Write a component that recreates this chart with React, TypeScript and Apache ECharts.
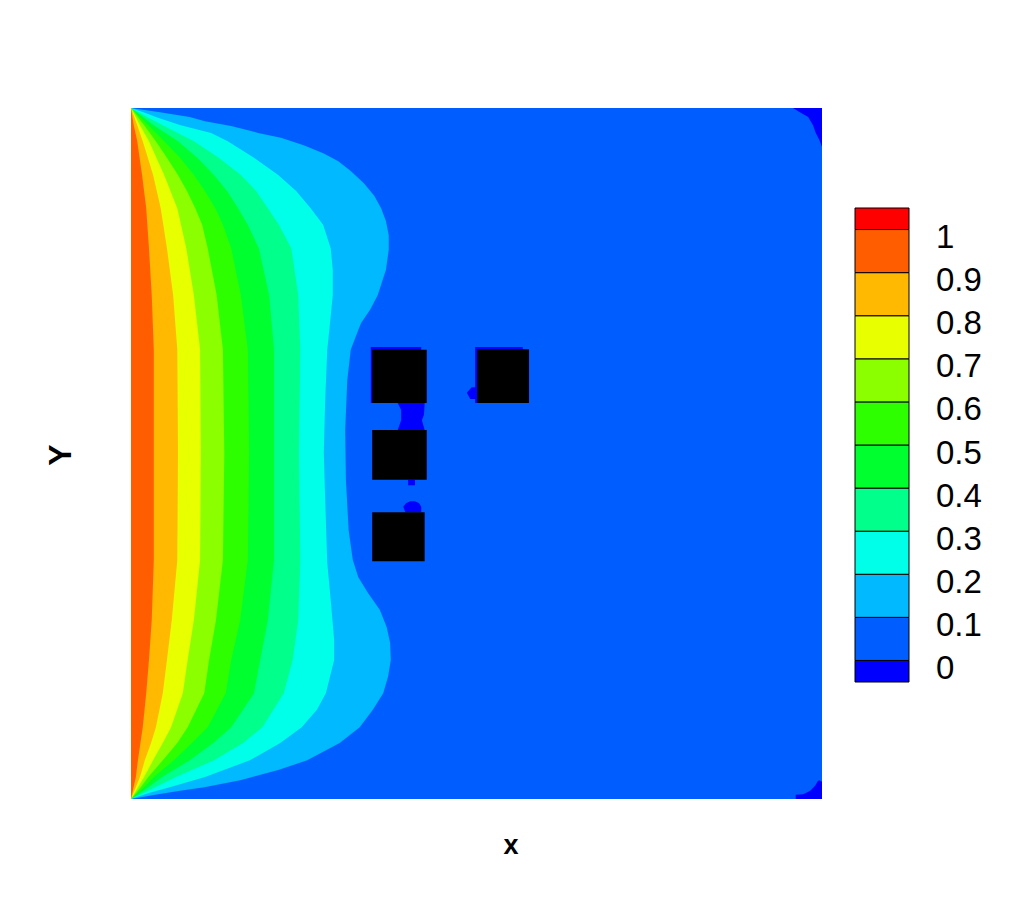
import React, { useEffect, useRef } from "react";
import * as echarts from "echarts";

// ---- colour levels (contour legend) ----
const bandLow = [-0.05, 0, 0.1, 0.2, 0.3, 0.4, 0.5, 0.6, 0.7, 0.8, 0.9, 1.0];
const bandHigh = [0, 0.1, 0.2, 0.3, 0.4, 0.5, 0.6, 0.7, 0.8, 0.9, 1.0, 1.05];
const bandColors = [
  "#0000FF", "#005DFF", "#00B9FF", "#00FFE8", "#00FF8B", "#00FF2E",
  "#2EFF00", "#8BFF00", "#E8FF00", "#FFB900", "#FF5D00", "#FF0000",
];
const colorbarTicks = [0, 0.1, 0.2, 0.3, 0.4, 0.5, 0.6, 0.7, 0.8, 0.9, 1];
const colorbarLabels = ["0", "0.1", "0.2", "0.3", "0.4", "0.5", "0.6", "0.7", "0.8", "0.9", "1"];

// ---- isolines [x, y], from top-left corner down to bottom-left corner ----
const iso01 = [[0,1],[0.042,0.994],[0.085,0.987],[0.107,0.981],[0.145,0.974],[0.184,0.964],[0.217,0.957],[0.25,0.946],[0.279,0.934],[0.3,0.923],[0.318,0.909],[0.337,0.891],[0.352,0.873],[0.362,0.855],[0.369,0.836],[0.373,0.816],[0.373,0.795],[0.369,0.766],[0.357,0.729],[0.346,0.708],[0.333,0.689],[0.326,0.671],[0.318,0.65],[0.313,0.606],[0.31,0.534],[0.311,0.462],[0.315,0.389],[0.321,0.346],[0.329,0.321],[0.343,0.298],[0.36,0.274],[0.37,0.249],[0.375,0.226],[0.376,0.201],[0.372,0.177],[0.365,0.153],[0.35,0.129],[0.331,0.104],[0.302,0.081],[0.255,0.056],[0.213,0.042],[0.158,0.027],[0.106,0.017],[0.071,0.012],[0.035,0.006],[0,0]];
const iso02 = [[0,1],[0.02,0.993],[0.039,0.986],[0.072,0.975],[0.116,0.964],[0.14,0.952],[0.178,0.928],[0.213,0.903],[0.239,0.88],[0.26,0.855],[0.278,0.831],[0.289,0.797],[0.292,0.766],[0.292,0.729],[0.288,0.689],[0.284,0.65],[0.281,0.577],[0.279,0.501],[0.281,0.433],[0.284,0.342],[0.289,0.288],[0.294,0.23],[0.294,0.201],[0.282,0.153],[0.269,0.129],[0.247,0.104],[0.216,0.081],[0.172,0.056],[0.107,0.032],[0.056,0.017],[0.027,0.009],[0,0]];
const iso03 = [[0,1],[0.025,0.986],[0.046,0.975],[0.091,0.952],[0.127,0.928],[0.159,0.903],[0.181,0.88],[0.198,0.855],[0.214,0.831],[0.232,0.797],[0.242,0.729],[0.245,0.65],[0.243,0.501],[0.245,0.346],[0.242,0.259],[0.234,0.201],[0.221,0.153],[0.19,0.104],[0.162,0.081],[0.12,0.056],[0.065,0.032],[0.035,0.017],[0,0]];
const iso04 = [[0,1],[0.033,0.975],[0.068,0.952],[0.096,0.928],[0.12,0.903],[0.139,0.88],[0.155,0.855],[0.169,0.831],[0.185,0.797],[0.2,0.729],[0.207,0.65],[0.207,0.501],[0.207,0.346],[0.198,0.259],[0.187,0.201],[0.178,0.153],[0.145,0.104],[0.119,0.081],[0.085,0.056],[0.045,0.032],[0.025,0.017],[0,0]];
const iso05 = [[0,1],[0.025,0.975],[0.048,0.952],[0.071,0.928],[0.091,0.903],[0.107,0.88],[0.122,0.855],[0.133,0.831],[0.145,0.797],[0.159,0.729],[0.169,0.65],[0.171,0.501],[0.169,0.346],[0.158,0.259],[0.145,0.201],[0.137,0.153],[0.111,0.104],[0.088,0.081],[0.062,0.056],[0.033,0.032],[0.019,0.017],[0,0]];
const iso06 = [[0,1],[0.019,0.975],[0.036,0.952],[0.052,0.928],[0.068,0.903],[0.081,0.88],[0.093,0.855],[0.103,0.831],[0.111,0.797],[0.124,0.729],[0.133,0.65],[0.135,0.501],[0.133,0.346],[0.123,0.259],[0.113,0.201],[0.106,0.153],[0.082,0.104],[0.067,0.081],[0.046,0.056],[0.025,0.032],[0.014,0.017],[0,0]];
const iso07 = [[0,1],[0.013,0.975],[0.026,0.952],[0.048,0.903],[0.067,0.855],[0.08,0.797],[0.091,0.729],[0.1,0.65],[0.101,0.501],[0.1,0.346],[0.091,0.259],[0.082,0.201],[0.075,0.153],[0.058,0.104],[0.046,0.081],[0.032,0.056],[0.019,0.032],[0,0]];
const iso08 = [[0,1],[0.009,0.975],[0.017,0.952],[0.032,0.903],[0.043,0.855],[0.052,0.797],[0.061,0.729],[0.067,0.65],[0.068,0.501],[0.067,0.346],[0.059,0.259],[0.052,0.201],[0.046,0.153],[0.036,0.104],[0.029,0.081],[0.02,0.056],[0.013,0.032],[0,0]];
const iso09 = [[0,1],[0.004,0.975],[0.009,0.952],[0.016,0.903],[0.022,0.855],[0.026,0.797],[0.03,0.729],[0.033,0.65],[0.033,0.501],[0.033,0.346],[0.03,0.259],[0.026,0.201],[0.022,0.153],[0.017,0.104],[0.01,0.056],[0.007,0.032],[0,0]];
const isolines = [iso01, iso02, iso03, iso04, iso05, iso06, iso07, iso08, iso09];
const isoLevels = [0.1, 0.2, 0.3, 0.4, 0.5, 0.6, 0.7, 0.8, 0.9];

// ---- small regions below 0 ----
const negTopRight = [[1,1],[0.958,1],[0.968,0.994],[0.98,0.987],[0.987,0.975],[0.991,0.964],[0.996,0.954],[1,0.944]];
const negBottomRight = [[1,0],[0.962,0],[0.962,0.006],[0.973,0.007],[0.983,0.012],[0.99,0.019],[0.994,0.026],[0.996,0.027],[1,0.025]];
const negGap13 = [[0.386,0.573],[0.425,0.573],[0.424,0.556],[0.421,0.548],[0.425,0.534],[0.386,0.534],[0.391,0.548],[0.391,0.563]];
const negBelow3 = [[0.401,0.462],[0.411,0.462],[0.411,0.454],[0.401,0.454]];
const negAbove4 = [[0.394,0.423],[0.398,0.428],[0.404,0.431],[0.411,0.431],[0.417,0.428],[0.42,0.423],[0.42,0.415],[0.397,0.415]];
const negLeft2 = [[0.486,0.588],[0.493,0.596],[0.501,0.596],[0.501,0.579],[0.491,0.579]];
const negRim1 = [[0.347,0.573],[0.347,0.654],[0.42,0.654],[0.42,0.573]];
const negRim2 = [[0.498,0.573],[0.498,0.654],[0.567,0.654],[0.567,0.573]];
const negativeRegions = [negTopRight, negBottomRight, negGap13, negBelow3, negAbove4, negLeft2, negRim1, negRim2];

// ---- obstacles [x0, y0, x1, y1] ----
const obstacles = [
  [0.349, 0.573, 0.428, 0.65],
  [0.501, 0.573, 0.576, 0.651],
  [0.349, 0.462, 0.428, 0.534],
  [0.349, 0.344, 0.425, 0.415],
];

const domain = [[0, 0], [1, 0], [1, 1], [0, 1]];

export default function App() {
  const ref = useRef<HTMLDivElement>(null);
  useEffect(() => {
    if (!ref.current) return;
    const chart = echarts.init(ref.current, null, { renderer: "svg" });
    const font = "'Liberation Sans', Arial, Helvetica, sans-serif";

    const bandData = [0, ...isoLevels].map((lv, i) => [i, lv]);

    chart.setOption({
      animation: false,
      backgroundColor: "#ffffff",
      grid: [
        { left: 131, top: 108, width: 691, height: 691 },
        { left: 855, top: 208, width: 54, height: 474 },
      ],
      xAxis: [
        { gridIndex: 0, type: "value", min: 0, max: 1, show: false },
        { gridIndex: 1, type: "value", min: 0, max: 1, show: false },
      ],
      yAxis: [
        { gridIndex: 0, type: "value", min: 0, max: 1, show: false },
        {
          gridIndex: 1,
          type: "value",
          min: -0.05,
          max: 1.05,
          position: "right",
          axisLine: { show: false },
          axisTick: { show: false },
          splitLine: { show: false },
          axisLabel: {
            customValues: colorbarTicks,
            formatter: (v: number) => {
              const i = colorbarTicks.findIndex((t) => Math.abs(t - v) < 1e-6);
              return i >= 0 ? colorbarLabels[i] : "";
            },
            margin: 27,
            color: "#000",
            fontSize: 33,
            fontFamily: font,
            verticalAlign: "top",
            lineHeight: 14,
          },
        },
      ],
      series: [
        {
          type: "custom",
          xAxisIndex: 0,
          yAxisIndex: 0,
          clip: true,
          data: bandData,
          renderItem: (params: any, api: any) => {
            const k = params.dataIndex;
            const pts = k === 0 ? domain : isolines[k - 1];
            return {
              type: "polygon",
              shape: { points: pts.map((p) => api.coord(p)) },
              style: { fill: bandColors[k + 1] },
            };
          },
        },
        {
          type: "custom",
          xAxisIndex: 0,
          yAxisIndex: 0,
          clip: true,
          data: negativeRegions.map((_, i) => [i]),
          renderItem: (params: any, api: any) => {
            const pts = negativeRegions[params.dataIndex];
            return {
              type: "polygon",
              shape: { points: pts.map((p) => api.coord(p)) },
              style: { fill: bandColors[0] },
            };
          },
        },
        {
          type: "custom",
          xAxisIndex: 0,
          yAxisIndex: 0,
          data: obstacles,
          renderItem: (params: any, api: any) => {
            const a = api.coord([api.value(0), api.value(3)]);
            const b = api.coord([api.value(2), api.value(1)]);
            return {
              type: "rect",
              shape: { x: a[0], y: a[1], width: b[0] - a[0], height: b[1] - a[1] },
              style: { fill: "#000000" },
            };
          },
        },
        {
          type: "custom",
          xAxisIndex: 1,
          yAxisIndex: 1,
          data: bandLow.map((lo, i) => [lo, bandHigh[i]]),
          renderItem: (params: any, api: any) => {
            const a = api.coord([0, api.value(1)]);
            const b = api.coord([1, api.value(0)]);
            return {
              type: "rect",
              shape: { x: a[0], y: a[1], width: b[0] - a[0], height: b[1] - a[1] },
              style: { fill: bandColors[params.dataIndex], stroke: "#000", lineWidth: 1 },
            };
          },
        },
      ],
      graphic: [
        {
          type: "text",
          x: 60,
          y: 455,
          rotation: Math.PI / 2,
          style: {
            text: "Y",
            fontSize: 32,
            fontWeight: "bold",
            fontFamily: font,
            fill: "#000",
            align: "center",
            verticalAlign: "middle",
          },
        },
        {
          type: "text",
          x: 511,
          y: 845,
          style: {
            text: "x",
            fontSize: 27,
            fontWeight: "bold",
            fontFamily: font,
            fill: "#000",
            align: "center",
            verticalAlign: "middle",
          },
        },
      ],
    });
    return () => chart.dispose();
  }, []);
  return (
    <div
      ref={ref}
      style={{ position: "absolute", left: 0, top: 0, width: 1012, height: 900 }}
    />
  );
}
